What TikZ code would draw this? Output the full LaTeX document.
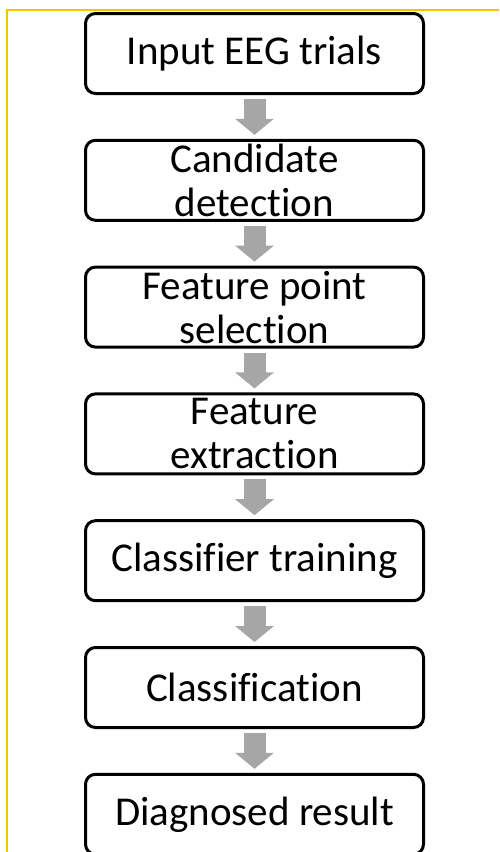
\documentclass[tikz,border=0pt]{standalone}
\usepackage{fontspec}
\setmainfont{Carlito}[Ligatures=NoCommon]
\usetikzlibrary{positioning,arrows.meta}
\definecolor{framegold}{HTML}{FFC000}
\definecolor{flowgray}{HTML}{A6A6A6}

\begin{document}
\begin{tikzpicture}[x=1pt,y=-1pt,
  stage/.style={draw, line width=3pt, rounded corners=10pt, minimum width=338pt,
    minimum height=80pt, inner sep=0pt, align=center, font=\fontsize{41}{44}\selectfont},
  flow/.style={flowgray, line width=22pt, shorten <=4pt, shorten >=4pt,
    -{Triangle[length=16pt,width=38pt]}},
  node distance=43.8pt]
  \path[use as bounding box, clip] (0,0) rectangle (499,852);
  \draw[framegold, line width=2.5pt] (499,10) -- (7,10) -- (7,852);

  \node[stage] (input) at (254.5,53.5) {Input EEG trials};
  \node[stage, below=of input] (cand) {Candidate\\detection};
  \node[stage, below=of cand] (fpsel) {Feature point\\selection};
  \node[stage, below=of fpsel] (fext) {Feature\\extraction};
  \node[stage, below=of fext] (ctrain) {Classifier training};
  \node[stage, below=of ctrain] (classif) {Classification};
  \node[stage, below=of classif] (result) {Diagnosed result};

  \draw[flow] (input) -- (cand);
  \draw[flow] (cand) -- (fpsel);
  \draw[flow] (fpsel) -- (fext);
  \draw[flow] (fext) -- (ctrain);
  \draw[flow] (ctrain) -- (classif);
  \draw[flow] (classif) -- (result);
\end{tikzpicture}
\end{document}
